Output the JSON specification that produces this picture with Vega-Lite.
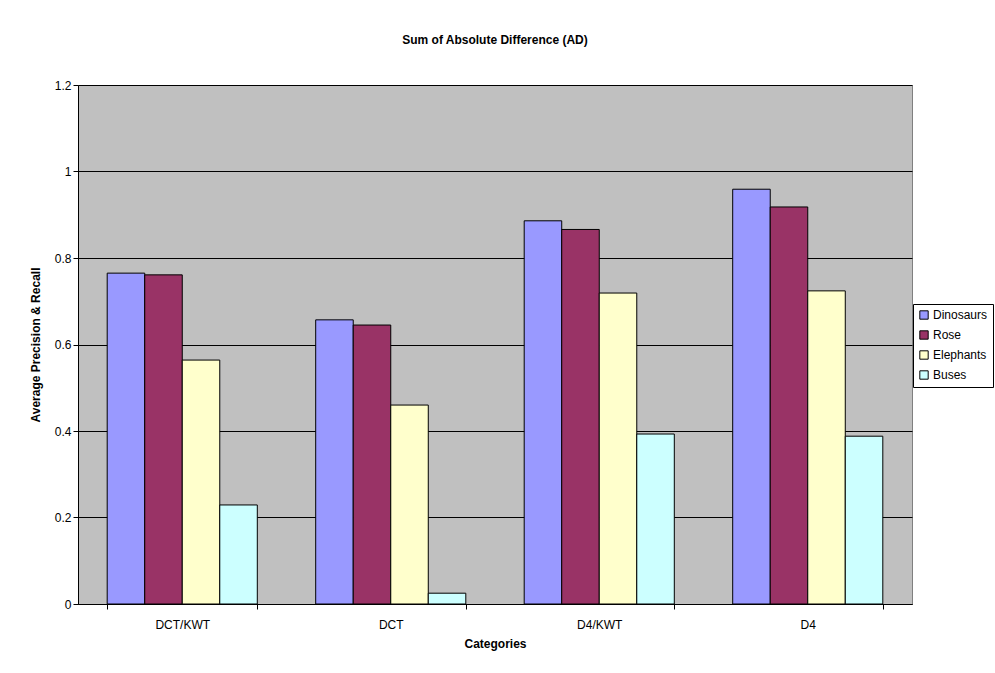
{
  "$schema": "https://vega.github.io/schema/vega-lite/v6.json",
  "width": 834,
  "height": 519,
  "padding": {"left": 29, "top": 34, "right": 5, "bottom": 5},
  "background": "white",
  "title": {"text": "Sum of Absolute Difference (AD)", "font": "Liberation Sans", "fontSize": 12, "fontWeight": "bold", "color": "black", "offset": 32},
  "data": {"values": [
    {"cat": "DCT/KWT", "series": "Dinosaurs", "v": 0.765},
    {"cat": "DCT/KWT", "series": "Rose", "v": 0.761},
    {"cat": "DCT/KWT", "series": "Elephants", "v": 0.564},
    {"cat": "DCT/KWT", "series": "Buses", "v": 0.229},
    {"cat": "DCT", "series": "Dinosaurs", "v": 0.657},
    {"cat": "DCT", "series": "Rose", "v": 0.645},
    {"cat": "DCT", "series": "Elephants", "v": 0.46},
    {"cat": "DCT", "series": "Buses", "v": 0.025},
    {"cat": "D4/KWT", "series": "Dinosaurs", "v": 0.886},
    {"cat": "D4/KWT", "series": "Rose", "v": 0.866},
    {"cat": "D4/KWT", "series": "Elephants", "v": 0.719},
    {"cat": "D4/KWT", "series": "Buses", "v": 0.393},
    {"cat": "D4", "series": "Dinosaurs", "v": 0.959},
    {"cat": "D4", "series": "Rose", "v": 0.918},
    {"cat": "D4", "series": "Elephants", "v": 0.724},
    {"cat": "D4", "series": "Buses", "v": 0.388}
  ]},
  "mark": {"type": "bar", "stroke": "black", "strokeWidth": 1},
  "encoding": {
    "x": {"field": "cat", "type": "nominal", "sort": ["DCT/KWT", "DCT", "D4/KWT", "D4"],
      "scale": {"paddingInner": 0.28, "paddingOuter": 0.14},
      "axis": {"title": "Categories", "labelAngle": 0, "tickBand": "extent", "labelPadding": 10, "titlePadding": 8}},
    "xOffset": {"field": "series", "type": "nominal", "sort": ["Dinosaurs", "Rose", "Elephants", "Buses"], "scale": {"paddingInner": 0, "paddingOuter": 0}},
    "y": {"field": "v", "type": "quantitative", "scale": {"domain": [0, 1.2]},
      "axis": {"title": "Average Precision & Recall", "values": [0, 0.2, 0.4, 0.6, 0.8, 1, 1.2], "format": "~g", "grid": true, "titlePadding": 12}},
    "color": {"field": "series", "type": "nominal", "sort": ["Dinosaurs", "Rose", "Elephants", "Buses"],
      "scale": {"domain": ["Dinosaurs", "Rose", "Elephants", "Buses"], "range": ["#9999FF", "#993366", "#FFFFCC", "#CCFFFF"]},
      "legend": {"title": null, "orient": "none", "legendX": 835, "legendY": 219, "symbolType": "square", "symbolSize": 70, "symbolStrokeColor": "black", "symbolStrokeWidth": 1, "labelFontSize": 12, "rowPadding": 6, "padding": 5, "strokeColor": "black", "fillColor": "white", "labelOffset": 3}}
  },
  "config": {
    "font": "Liberation Sans",
    "view": {"fill": "#C0C0C0", "stroke": "#808080", "strokeWidth": 1},
    "axis": {"labelFont": "Liberation Sans", "labelFontSize": 12, "labelColor": "black", "titleFont": "Liberation Sans", "titleFontSize": 12, "titleFontWeight": "bold", "titleColor": "black", "domainColor": "black", "tickColor": "black", "tickSize": 5, "gridColor": "black", "gridWidth": 1, "gridOpacity": 1, "domainWidth": 1},
    "legend": {"labelFont": "Liberation Sans", "labelColor": "black"}
  }
}
